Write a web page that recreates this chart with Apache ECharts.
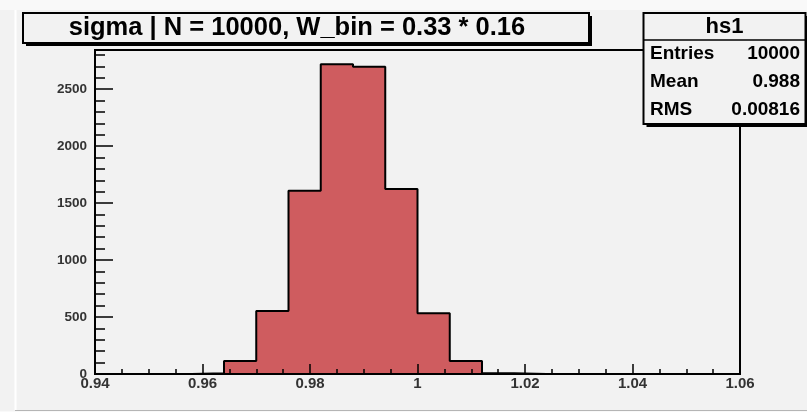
<!DOCTYPE html>
<html><head><meta charset="utf-8">
<script src="https://cdn.jsdelivr.net/npm/echarts@6/dist/echarts.min.js"></script>
<style>html,body{margin:0;padding:0;background:#f2f2f2}#c{width:807px;height:412px}</style>
</head><body><div id="c"></div>
<script>
// ---- data ----
const binEdges = [0.94, 0.946, 0.952, 0.958, 0.964, 0.970, 0.976, 0.982, 0.988, 0.994, 1.000,
                  1.006, 1.012, 1.018, 1.024, 1.030, 1.036, 1.042, 1.048, 1.054, 1.06];
const counts = [0, 0, 0, 7, 114, 553, 1608, 2717, 2696, 1623, 532, 114, 6, 0, 0, 0, 0, 0, 0, 0];
const xMin = 0.94, xMax = 1.06, xStep = 0.02;
const yMax = 2843, yStep = 500, yMinorStep = 100;
const titleText = 'sigma | N = 10000, W_bin = 0.33 * 0.16';
const statsName = 'hs1';
const statsLabels = ['Entries', 'Mean', 'RMS'];
const statsValues = ['10000', '0.988', '0.00816'];

// step outline points (left edge of each bin + last right edge)
const stepData = counts.map((c, i) => [binEdges[i], c]);
stepData.push([binEdges[binEdges.length - 1], counts[counts.length - 1]]);

const FONT = 'Liberation Sans, Arial, Helvetica, sans-serif';
const chart = echarts.init(document.getElementById('c'), null, {renderer: 'canvas'});

const graphics = [
  {type: 'rect', shape: {x: 0, y: 0, width: 807, height: 10}, style: {fill: '#f9f9f9'}, z: 0, silent: true},
  {type: 'line', shape: {x1: 15.5, y1: 10, x2: 15.5, y2: 410}, style: {stroke: '#ffffff', lineWidth: 2}, z: 0, silent: true},
  {type: 'rect', shape: {x: 0, y: 411, width: 807, height: 1}, style: {fill: '#f9f9f9'}, z: 0, silent: true},
  {type: 'line', shape: {x1: 15, y1: 410.5, x2: 807, y2: 410.5}, style: {stroke: '#b5b5b5', lineWidth: 1}, z: 0, silent: true},
  // title box
  {type: 'rect', shape: {x: 26, y: 16, width: 566, height: 30}, style: {fill: '#000'}, z: 50, silent: true},
  {type: 'rect', shape: {x: 23, y: 13, width: 566, height: 30}, style: {fill: '#f2f2f2', stroke: '#000', lineWidth: 2}, z: 51, silent: true},
  {type: 'text', x: 297, y: 28, style: {text: titleText, font: 'bold 25.5px ' + FONT, fill: '#000', align: 'center', verticalAlign: 'middle'}, z: 52, silent: true},
  // stats box
  {type: 'rect', shape: {x: 646.5, y: 16, width: 162, height: 111}, style: {fill: '#000'}, z: 50, silent: true},
  {type: 'rect', shape: {x: 643.5, y: 13, width: 162, height: 111}, style: {fill: '#f2f2f2', stroke: '#000', lineWidth: 2}, z: 51, silent: true},
  {type: 'line', shape: {x1: 643.5, y1: 40, x2: 805.5, y2: 40}, style: {stroke: '#000', lineWidth: 1.5}, z: 52, silent: true},
  {type: 'text', x: 724.5, y: 27, style: {text: statsName, font: 'bold 22px ' + FONT, fill: '#000', align: 'center', verticalAlign: 'middle'}, z: 52, silent: true}
];
statsLabels.forEach((lab, i) => {
  const yy = 54 + i * 28;
  graphics.push({type: 'text', x: 650, y: yy, style: {text: lab, font: 'bold 19px ' + FONT, fill: '#000', align: 'left', verticalAlign: 'middle'}, z: 52, silent: true});
  graphics.push({type: 'text', x: 800, y: yy, style: {text: statsValues[i], font: 'bold 19px ' + FONT, fill: '#000', align: 'right', verticalAlign: 'middle'}, z: 52, silent: true});
});

const tickStyle = {color: '#000', width: 1.5};
chart.setOption({
  animation: false,
  backgroundColor: '#f2f2f2',
  grid: {left: 95, right: 67, top: 50, bottom: 38, show: true, borderColor: '#000', borderWidth: 2, backgroundColor: 'transparent'},
  xAxis: {
    type: 'value', min: xMin, max: xMax, interval: xStep, z: 5,
    axisLine: {lineStyle: {color: '#000', width: 2}},
    axisTick: {inside: true, length: 10, lineStyle: tickStyle},
    minorTick: {show: true, splitNumber: 4, length: 5, lineStyle: tickStyle},
    splitLine: {show: false}, minorSplitLine: {show: false},
    axisLabel: {margin: 2, fontSize: 15, fontWeight: 'bold', fontFamily: FONT, color: '#333',
      formatter: v => String(+(+v).toFixed(2))}
  },
  yAxis: [
    {
      type: 'value', min: 0, max: yMax, interval: yStep, position: 'left', z: 5,
      axisLine: {lineStyle: {color: '#000', width: 2}},
      axisTick: {inside: true, length: 18, lineStyle: tickStyle},
      splitLine: {show: false},
      axisLabel: {margin: 8, fontSize: 13.5, fontWeight: 'bold', fontFamily: FONT, color: '#333', showMaxLabel: false,
        formatter: v => String(Math.round(v))}
    },
    {
      type: 'value', min: 0, max: yMax, interval: yMinorStep, position: 'left', offset: 0, z: 5,
      axisLine: {show: false},
      axisTick: {inside: true, length: 10, lineStyle: tickStyle},
      splitLine: {show: false},
      axisLabel: {show: false}
    }
  ],
  series: [{
    type: 'line', xAxisIndex: 0, yAxisIndex: 0, step: 'end', data: stepData,
    symbol: 'none', z: 2,
    lineStyle: {color: '#000', width: 2},
    areaStyle: {color: '#cf5c5f', opacity: 1}
  }],
  graphic: graphics
});
</script>
</body></html>
